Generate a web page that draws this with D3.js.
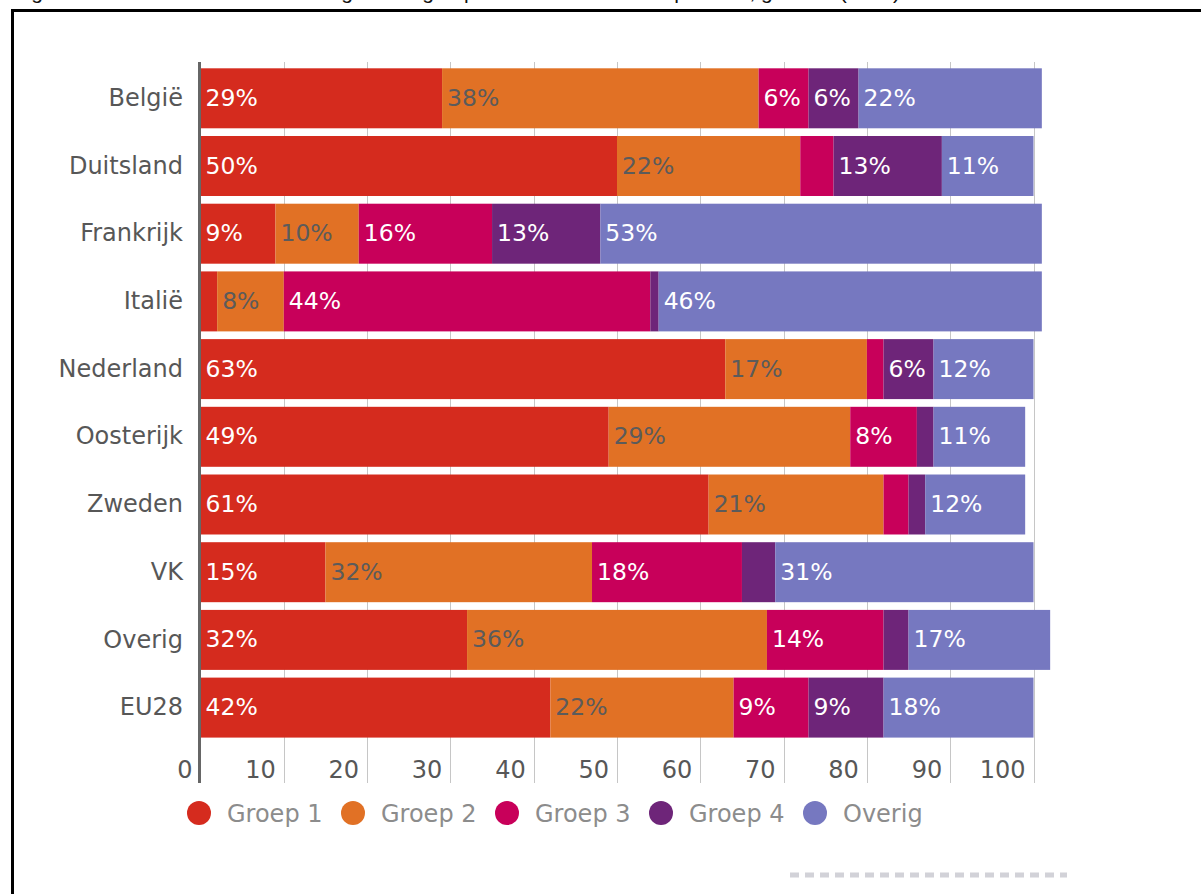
<!DOCTYPE html>
<html>
<head>
<meta charset="utf-8">
<script src="https://cdn.jsdelivr.net/npm/d3@7"></script>
<style>
  html, body { margin: 0; padding: 0; background: #fff; }
  svg { display: block; }
</style>
</head>
<body>
<svg id="chart" width="1201" height="894"></svg>
<script>
const categories = ["België","Duitsland","Frankrijk","Italië","Nederland","Oosterijk","Zweden","VK","Overig","EU28"];
const seriesNames = ["Groep 1","Groep 2","Groep 3","Groep 4","Overig"];
const groep1 = [29,50,9,2,63,49,61,15,32,42];
const groep2 = [38,22,10,8,17,29,21,32,36,22];
const groep3 = [6,4,16,44,2,8,3,18,14,9];
const groep4 = [6,13,13,1,6,2,2,4,3,9];
const overig = [22,11,53,46,12,11,12,31,17,18];
const tickValues = [0,10,20,30,40,50,60,70,80,90,100];
const caption = "Figuur 4: Marktaandeel van de vier grootste groepen in de totale omzet per land, geschat (2014)";

const colors = ["#D52B1E","#E17125","#C8005A","#6E2579","#7678C0"];
const labelColors = ["#ffffff","#5b5b5b","#ffffff","#ffffff","#ffffff"];
const seriesValues = [groep1, groep2, groep3, groep4, overig];

const rows = categories.map((c, i) => {
  const r = {cat: c};
  seriesNames.forEach((s, j) => r[s] = seriesValues[j][i]);
  return r;
});

const svg = d3.select("#chart");
const font = "'DejaVu Sans', Verdana, sans-serif";

svg.append("rect").attr("width",1201).attr("height",894).attr("fill","#fff");

// caption (cut off at top, as in the original)
svg.append("text")
  .attr("x", 14).attr("y", -1)
  .attr("font-family","'Liberation Sans', Arial, sans-serif")
  .attr("font-size", 21)
  .attr("fill","#111")
  .attr("textLength", 886).attr("lengthAdjust","spacing")
  .text(caption);

// frame
svg.append("path")
  .attr("d","M12.5,894 V10.5 H1201")
  .attr("fill","none").attr("stroke","#000").attr("stroke-width",3);

const x = d3.scaleLinear().domain([0,100]).range([200.5,1033.5]);
const y = d3.scaleBand().domain(categories).range([64.45,741.45]).paddingInner(0.114).paddingOuter(0.057);

// gridlines
svg.append("g").selectAll("line")
  .data(tickValues.filter(v => v > 0))
  .join("line")
  .attr("x1", d => Math.round(x(d)) + 0.5).attr("x2", d => Math.round(x(d)) + 0.5)
  .attr("y1", 62).attr("y2", 783)
  .attr("stroke","#c6c6c6").attr("stroke-width",1);

// stacked bars
const stack = d3.stack().keys(seriesNames);
const stacked = stack(rows);

const layers = svg.append("g").selectAll("g")
  .data(stacked)
  .join("g")
  .attr("fill", (d, i) => colors[i]);

layers.selectAll("rect")
  .data(d => d)
  .join("rect")
  .attr("x", d => x(d[0]))
  .attr("y", d => y(d.data.cat))
  .attr("width", d => x(d[1]) - x(d[0]))
  .attr("height", y.bandwidth());

// value labels
stacked.forEach((layer, i) => {
  svg.append("g").selectAll("text")
    .data(layer.filter(d => (d[1] - d[0]) >= 5))
    .join("text")
    .attr("x", d => x(d[0]) + 5)
    .attr("y", d => y(d.data.cat) + y.bandwidth() / 2)
    .attr("dy", "0.32em")
    .attr("font-family", font)
    .attr("font-size", 23.5)
    .attr("fill", labelColors[i])
    .text(d => (d[1] - d[0]) + "%");
});

// zero axis line
svg.append("line")
  .attr("x1", 199.5).attr("x2", 199.5)
  .attr("y1", 62).attr("y2", 783)
  .attr("stroke","#666").attr("stroke-width",3);

// category labels
svg.append("g").selectAll("text")
  .data(categories)
  .join("text")
  .attr("x", 183)
  .attr("y", d => y(d) + y.bandwidth() / 2)
  .attr("dy", "0.32em")
  .attr("text-anchor","end")
  .attr("font-family", font)
  .attr("font-size", 24)
  .attr("fill","#575757")
  .text(d => d);

// tick labels
svg.append("g").selectAll("text")
  .data(tickValues)
  .join("text")
  .attr("x", d => x(d) - 8)
  .attr("y", 778)
  .attr("text-anchor","end")
  .attr("font-family", font)
  .attr("font-size", 24)
  .attr("fill","#575757")
  .text(d => d);

// legend
const legend = svg.append("g").selectAll("g")
  .data(seriesNames)
  .join("g")
  .attr("transform", (d, i) => `translate(${199 + i * 154},813)`);
legend.append("circle").attr("r", 12).attr("fill", (d, i) => colors[i]);
legend.append("text")
  .attr("x", 28).attr("y", 0).attr("dy","0.36em")
  .attr("font-family", font)
  .attr("font-size", 24)
  .attr("fill","#8c8c8c")
  .text(d => d);

// dashed decoration line bottom right
svg.append("line")
  .attr("x1", 790).attr("x2", 1067)
  .attr("y1", 875).attr("y2", 875)
  .attr("stroke","#d2d2d8").attr("stroke-width",5)
  .attr("stroke-dasharray","9,6");
</script>
</body>
</html>
